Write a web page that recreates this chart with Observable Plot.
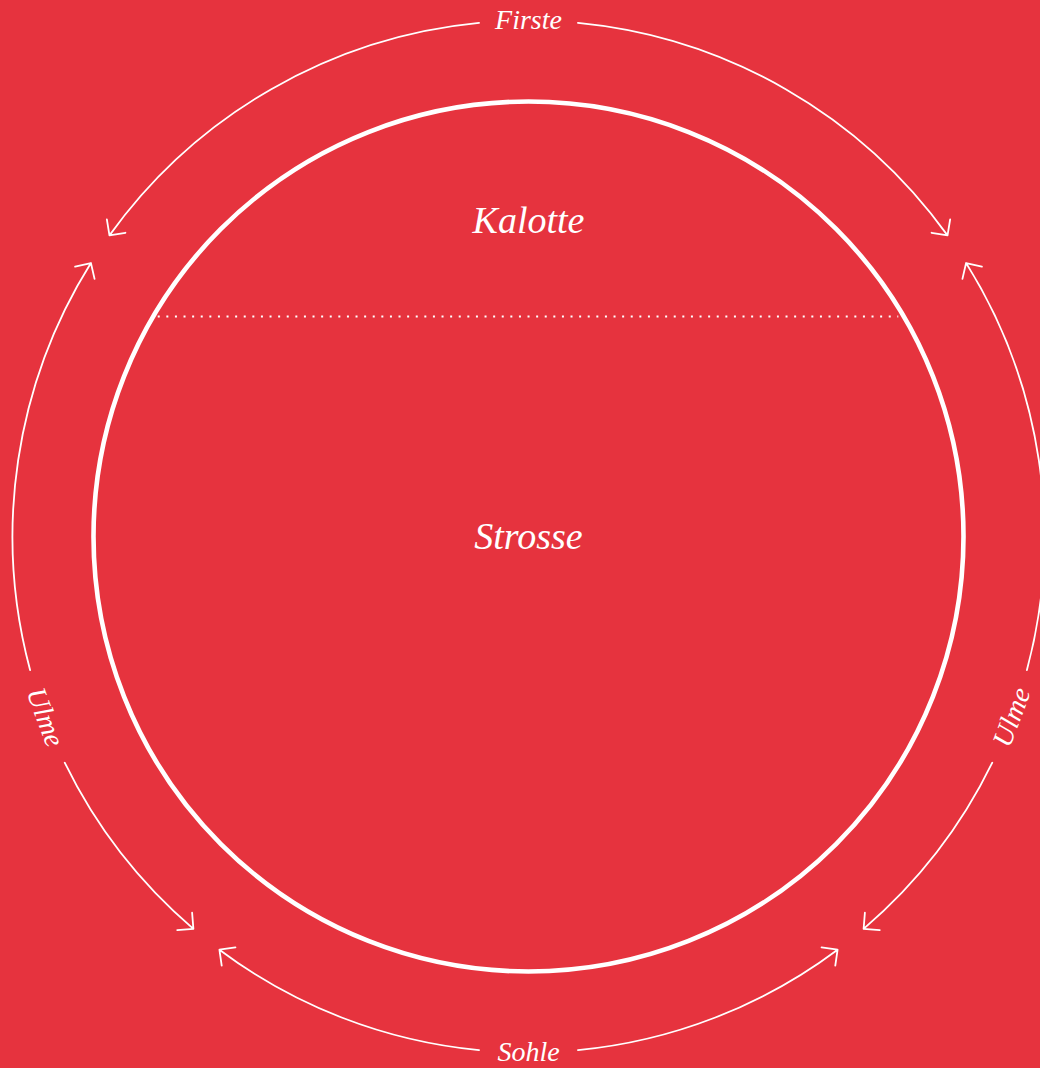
<!DOCTYPE html>
<html><head><meta charset="utf-8">
<script src="https://cdn.jsdelivr.net/npm/d3@7"></script>
<script src="https://cdn.jsdelivr.net/npm/@observablehq/plot@0.6"></script>
<style>html,body{margin:0;padding:0;background:#e6333e;overflow:hidden}</style>
</head><body><div id="chart"></div>
<script>
// Tunnel cross-section geometry (units = px, origin = tunnel centre, y up)
const tunnelRadius = 435;
const ringRadius = 516;
const innerLabels = ["Kalotte", "Strosse"];
const innerLabelY = [316, 0];
const dividerY = [220];
const dividerInset = 5;
const outerLabels = ["Firste", "Ulme", "Sohle", "Ulme"];
const outerLabelAngles = [0, 110.5, 180, -110.5];   // degrees, clockwise from top
const arcStart = [-5.5, 5.5, 105, 116, 174.5, -174.5, -105, -116];
const arcEnd   = [-54.3, 54.3, 58, 139.5, 143.2, -143.2, -58, -139.5];

const W = 1040, H = 1068, cx = 528, cy = 536;
const rad = Math.PI / 180;
const px = (r, a) => r * Math.sin(a * rad);
const py = (r, a) => r * Math.cos(a * rad);

const inner = innerLabels.map((t, i) => ({text: t, x: 0, y: innerLabelY[i]}));
const outer = outerLabels.map((t, i) => {
  const a = outerLabelAngles[i];
  const rot = a > 90 ? a - 180 : a < -90 ? a + 180 : a;
  return {text: t, x: px(ringRadius, a), y: py(ringRadius, a), rotate: a === 180 ? 0 : rot};
});
const divider = dividerY.map(y => {
  const h = Math.sqrt(tunnelRadius ** 2 - y ** 2) - dividerInset;
  return {y, x1: -h, x2: h};
});
const arcs = arcStart.map((a0, i) => ({
  x1: px(ringRadius, a0), y1: py(ringRadius, a0),
  x2: px(ringRadius, arcEnd[i]), y2: py(ringRadius, arcEnd[i]),
  bend: (arcEnd[i] - a0) / 2
}));

const font = {fontFamily: "'Liberation Serif', 'DejaVu Serif', serif", fontStyle: "italic", fill: "white"};

const chart = Plot.plot({
  width: W, height: H,
  margin: 0,
  style: {background: "#e6333e", overflow: "visible"},
  x: {domain: [-cx, W - cx], range: [0, W], axis: null},
  y: {domain: [cy - H, cy], range: [H, 0], axis: null},
  marks: [
    Plot.dot([{x: 0, y: 0}], {x: "x", y: "y", r: tunnelRadius, stroke: "white", strokeWidth: 4.6, fill: "none"}),
    Plot.ruleY(divider, {y: "y", x1: "x1", x2: "x2", stroke: "white", strokeWidth: 2.2, strokeDasharray: "2 6.6"}),
    ...arcs.map(d => Plot.arrow([d], {x1: "x1", y1: "y1", x2: "x2", y2: "y2", bend: d.bend,
      stroke: "white", strokeWidth: 1.8, headAngle: 90, headLength: 13.5})),
    Plot.text(inner, {x: "x", y: "y", text: "text", fontSize: 38, ...font}),
    Plot.text(outer, {x: "x", y: "y", text: "text", rotate: "rotate", fontSize: 28, ...font})
  ]
});
document.getElementById("chart").appendChild(chart);
</script>
</body></html>
